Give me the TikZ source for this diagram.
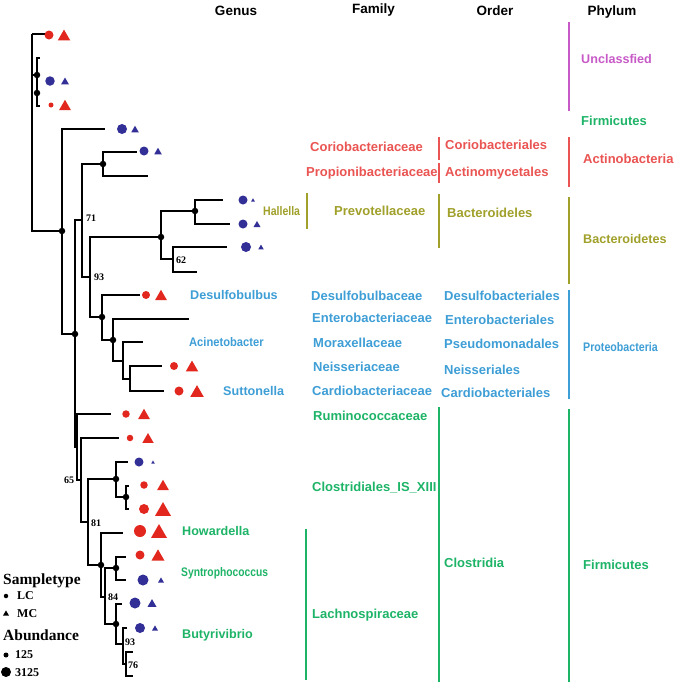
\documentclass[tikz,border=0pt]{standalone}
\usepackage{fontspec}
\setmainfont{Liberation Serif}
\setsansfont{Liberation Sans}
\usetikzlibrary{shapes.geometric}
\definecolor{symred}{RGB}{226,39,30}
\definecolor{symblue}{RGB}{50,48,150}
\definecolor{lred}{RGB}{234,84,82}
\definecolor{lolive}{RGB}{160,160,42}
\definecolor{lblue}{RGB}{62,158,214}
\definecolor{lgreen}{RGB}{30,180,104}
\definecolor{lmag}{RGB}{200,90,200}
\newcommand\symrow[7]{%
  \node[dotc, fill=#4, minimum size=#5pt] (sc#1) at (#3,#2) {};
  \node[tric, fill=#4, minimum size={1.1547*#7pt}, yshift={-0.1443*#7pt}] (st#1) at (#6,#2) {};
}
\begin{document}
\begin{tikzpicture}[x=1pt,y=-1pt,
 tree/.style={line width=1.8pt, line join=miter},
 nd/.style={circle, fill=black, inner sep=0pt, minimum size=6.5pt},
 dotc/.style={circle, inner sep=0pt, draw=none},
 tric/.style={regular polygon, regular polygon sides=3, inner sep=0pt, draw=none},
 bs/.style={font=\bfseries\fontsize{10}{10}\selectfont, inner sep=0pt},
 lab/.style={anchor=base west, inner sep=0pt, font=\sffamily\bfseries\fontsize{13}{13}\selectfont, yshift=-4.6pt},
 labg/.style={anchor=base west, inner sep=0pt, font=\sffamily\bfseries\fontsize{12.6}{12.6}\selectfont, yshift=-4.5pt},
 labs/.style={anchor=base west, inner sep=0pt, font=\sffamily\bfseries\fontsize{12.4}{12.4}\selectfont, yshift=-4.4pt},
 hdr/.style={font=\sffamily\bfseries\fontsize{13.5}{13.5}\selectfont, inner sep=0pt, anchor=base},
 bar/.style={line width=2pt},
 leg/.style={font=\bfseries\fontsize{15.5}{15.5}\selectfont, anchor=base west, inner sep=0pt},
 legs/.style={font=\bfseries\fontsize{12}{12}\selectfont, anchor=base west, inner sep=0pt},
]
\fill[white] (0,0) rectangle (675,686);
\useasboundingbox (0,0) rectangle (675,686);

% ---------- tree coordinates ----------
\coordinate (root) at (32,34);
\coordinate (l1) at (45,34);
\coordinate (U) at (37,75);
\coordinate (V) at (37,93);
\coordinate (ua) at (40,58);
\coordinate (ub) at (40,106);
\coordinate (A) at (62,231);
\coordinate (l4) at (105,129);
\coordinate (B) at (75,334);
\coordinate (C) at (82,220);
\coordinate (AC) at (103,164);
\coordinate (l5) at (137,152);
\coordinate (l6) at (148,176);
\coordinate (E) at (90,277);
\coordinate (F) at (161,237);
\coordinate (G) at (195,211);
\coordinate (l7) at (223,200);
\coordinate (l8) at (230,224);
\coordinate (F2) at (173,259);
\coordinate (l9) at (227,247);
\coordinate (l10) at (197,272);
\coordinate (H) at (102,317);
\coordinate (l11) at (140,295);
\coordinate (I) at (113,340);
\coordinate (l12) at (189,319);
\coordinate (J) at (123,361);
\coordinate (l13) at (143,342);
\coordinate (K) at (130,379);
\coordinate (l14) at (162,366);
\coordinate (l15) at (164,391);
\coordinate (D) at (77,447);
\coordinate (l16) at (111,414);
\coordinate (Ln) at (81,480);
\coordinate (l17) at (119,438);
\coordinate (M) at (88,522);
\coordinate (N) at (116,479);
\coordinate (l18) at (128,462);
\coordinate (P) at (126,497);
\coordinate (l19) at (129,486);
\coordinate (l20) at (129,509);
\coordinate (O) at (101,565);
\coordinate (l21) at (123,533);
\coordinate (O2) at (105,597);
\coordinate (Q) at (116,568);
\coordinate (l22) at (126,557);
\coordinate (l23) at (126,580);
\coordinate (R) at (116,624);
\coordinate (l24) at (122,604);
\coordinate (S) at (123,644);
\coordinate (l25) at (127,628);
\coordinate (T) at (126,664);
\coordinate (l26) at (133,652);
\coordinate (l27) at (133,676);

% ---------- tree edges ----------
\draw[tree] (root) |- (l1);
\draw[tree] (root) |- (U);
\draw[tree] (root) |- (A);
\draw[tree] (ua) -| (U);
\draw[tree] (U) |- (ub);
\foreach \p/\c in {A/l4,A/B,B/C,B/D,C/AC,C/E,AC/l5,AC/l6,E/F,E/H,F/G,F/F2,G/l7,G/l8,F2/l9,F2/l10,
  H/l11,H/I,I/l12,I/J,J/l13,J/K,K/l14,K/l15,D/l16,D/Ln,Ln/l17,Ln/M,M/N,M/O,N/l18,N/P,P/l19,P/l20,
  O/l21,O/O2,O2/Q,O2/R,Q/l22,Q/l23,R/l24,R/S,S/l25,S/T,T/l26,T/l27}
  {\draw[tree] (\p) |- (\c);}

% node dots
\foreach \n in {U,V,A,B,AC,F,G,H,I,N,P,O,Q,R}
  {\node[nd] (d\n) at (\n) {};}

% bootstrap values
\node[bs] (b71) at (91,218) {71};
\node[bs] (b93a) at (99,277) {93};
\node[bs] (b62) at (181,260) {62};
\node[bs] (b65) at (69,480) {65};
\node[bs] (b81) at (96,523) {81};
\node[bs] (b84) at (113,597) {84};
\node[bs] (b93b) at (130,642) {93};
\node[bs] (b76) at (133,665) {76};

% ---------- symbols ----------
\symrow{1}{35}{49}{symred}{9}{64}{12.5}
\symrow{2}{81}{50}{symblue}{9.5}{65}{8}
\symrow{3}{105}{51}{symred}{5}{65}{12}
\symrow{4}{129}{122}{symblue}{10}{135}{7.5}
\symrow{5}{151}{144}{symblue}{9}{158}{7.5}
\symrow{7}{200}{243}{symblue}{9}{253}{4}
\symrow{8}{224}{243}{symblue}{9}{257}{7}
\symrow{9}{247}{246}{symblue}{10}{261}{5.5}
\symrow{11}{295}{146}{symred}{8}{161}{12}
\symrow{14}{366}{174}{symred}{8}{192}{12.5}
\symrow{15}{391}{179}{symred}{9}{197}{13.5}
\symrow{16}{414}{126}{symred}{7.5}{144}{12}
\symrow{17}{438}{130}{symred}{6.5}{148}{11.5}
\symrow{18}{462}{139}{symblue}{9}{153}{3.5}
\symrow{19}{485}{144}{symred}{7.5}{163}{12}
\symrow{20}{509}{144}{symred}{10}{163}{16}
\symrow{21}{531}{140}{symred}{12}{159}{16}
\symrow{22}{555}{140}{symred}{9}{158}{13}
\symrow{23}{580}{143}{symblue}{11}{161}{6}
\symrow{24}{603}{135}{symblue}{11}{152}{9}
\symrow{25}{628}{140}{symblue}{10}{155}{6}

% ---------- headers ----------
\node[hdr] (hG) at (236,15) {Genus};
\node[hdr] (hF) at (373.5,13) {Family};
\node[hdr] (hO) at (495,15) {Order};
\node[hdr] (hP) at (612,15.5) {Phylum};

% ---------- genus ----------
\node[labs, text=lolive, xscale=0.85] (gHal) at (263,211) {Hallella};
\node[labg, text=lblue] (gDes) at (190,295) {Desulfobulbus};
\node[labs, text=lblue, xscale=0.9] (gAci) at (189,342) {Acinetobacter};
\node[labg, text=lblue] (gSut) at (223,391) {Suttonella};
\node[labg, text=lgreen] (gHow) at (182,531) {Howardella};
\node[labs, text=lgreen, xscale=0.83] (gSyn) at (181,572) {Syntrophococcus};
\node[labg, text=lgreen] (gBut) at (182,634) {Butyrivibrio};

% ---------- family ----------
\node[lab, text=lred] (fCor) at (310,147) {Coriobacteriaceae};
\node[lab, text=lred] (fPro) at (306,172) {Propionibacteriaceae};
\node[lab, text=lolive] (fPre) at (334,211) {Prevotellaceae};
\node[lab, text=lblue] (fDes) at (311,296) {Desulfobulbaceae};
\node[lab, text=lblue] (fEnt) at (312,318) {Enterobacteriaceae};
\node[lab, text=lblue] (fMor) at (313,343) {Moraxellaceae};
\node[lab, text=lblue] (fNei) at (313,367) {Neisseriaceae};
\node[lab, text=lblue] (fCar) at (312,391) {Cardiobacteriaceae};
\node[lab, text=lgreen] (fRum) at (313,416) {Ruminococcaceae};
\node[lab, text=lgreen] (fClo) at (312,487) {Clostridiales\_IS\_XIII};
\node[lab, text=lgreen] (fLac) at (312,614) {Lachnospiraceae};

% ---------- order ----------
\node[lab, text=lred] (oCor) at (445,145) {Coriobacteriales};
\node[lab, text=lred] (oAct) at (445,172) {Actinomycetales};
\node[lab, text=lolive] (oBac) at (447,213) {Bacteroideles};
\node[lab, text=lblue] (oDes) at (444,296) {Desulfobacteriales};
\node[lab, text=lblue] (oEnt) at (445,320) {Enterobacteriales};
\node[lab, text=lblue] (oPse) at (444,344) {Pseudomonadales};
\node[lab, text=lblue] (oNei) at (444,370) {Neisseriales};
\node[lab, text=lblue] (oCar) at (441,393) {Cardiobacteriales};
\node[lab, text=lgreen] (oClo) at (444,563) {Clostridia};

% ---------- phylum ----------
\node[labg, text=lmag] (pUnc) at (581,59) {Unclassfied};
\node[lab, text=lgreen] (pFi1) at (581,121) {Firmicutes};
\node[lab, text=lred] (pAct) at (583,159) {Actinobacteria};
\node[labg, text=lolive] (pBac) at (583,239) {Bacteroidetes};
\node[labs, text=lblue, xscale=0.86] (pPro) at (583,347) {Proteobacteria};
\node[lab, text=lgreen] (pFi2) at (583,565) {Firmicutes};

% ---------- bars ----------
\draw[bar, lolive] (307,193) -- (307,229);
\draw[bar, lgreen] (306,529) -- (306,680);
\draw[bar, lred] (439,137) -- (439,160);
\draw[bar, lred] (439,163) -- (439,183);
\draw[bar, lolive] (439,194) -- (439,248);
\draw[bar, lgreen] (439,407) -- (439,682);
\draw[bar, lmag] (569,22) -- (569,111);
\draw[bar, lred] (569,137) -- (569,187);
\draw[bar, lolive] (569,197) -- (569,284);
\draw[bar, lblue] (569,290) -- (569,399);
\draw[bar, lgreen] (569,409) -- (569,682);

% ---------- legend ----------
\node[leg] (lgS) at (3,584) {Sampletype};
\node[dotc, fill=black, minimum size=4.5pt] (lgd1) at (6,596) {};
\node[legs] (lgLC) at (17,599) {LC};
\node[tric, fill=black, minimum size=7pt, yshift=-0.9pt] (lgt1) at (6,613) {};
\node[legs] (lgMC) at (17,617) {MC};
\node[leg] (lgA) at (3,640) {Abundance};
\node[dotc, fill=black, minimum size=5pt] (lgd2) at (6,655) {};
\node[legs] (lg125) at (15,658) {125};
\node[dotc, fill=black, minimum size=10pt] (lgd3) at (6,672) {};
\node[legs] (lg3125) at (15,676) {3125};
\end{tikzpicture}
\end{document}
